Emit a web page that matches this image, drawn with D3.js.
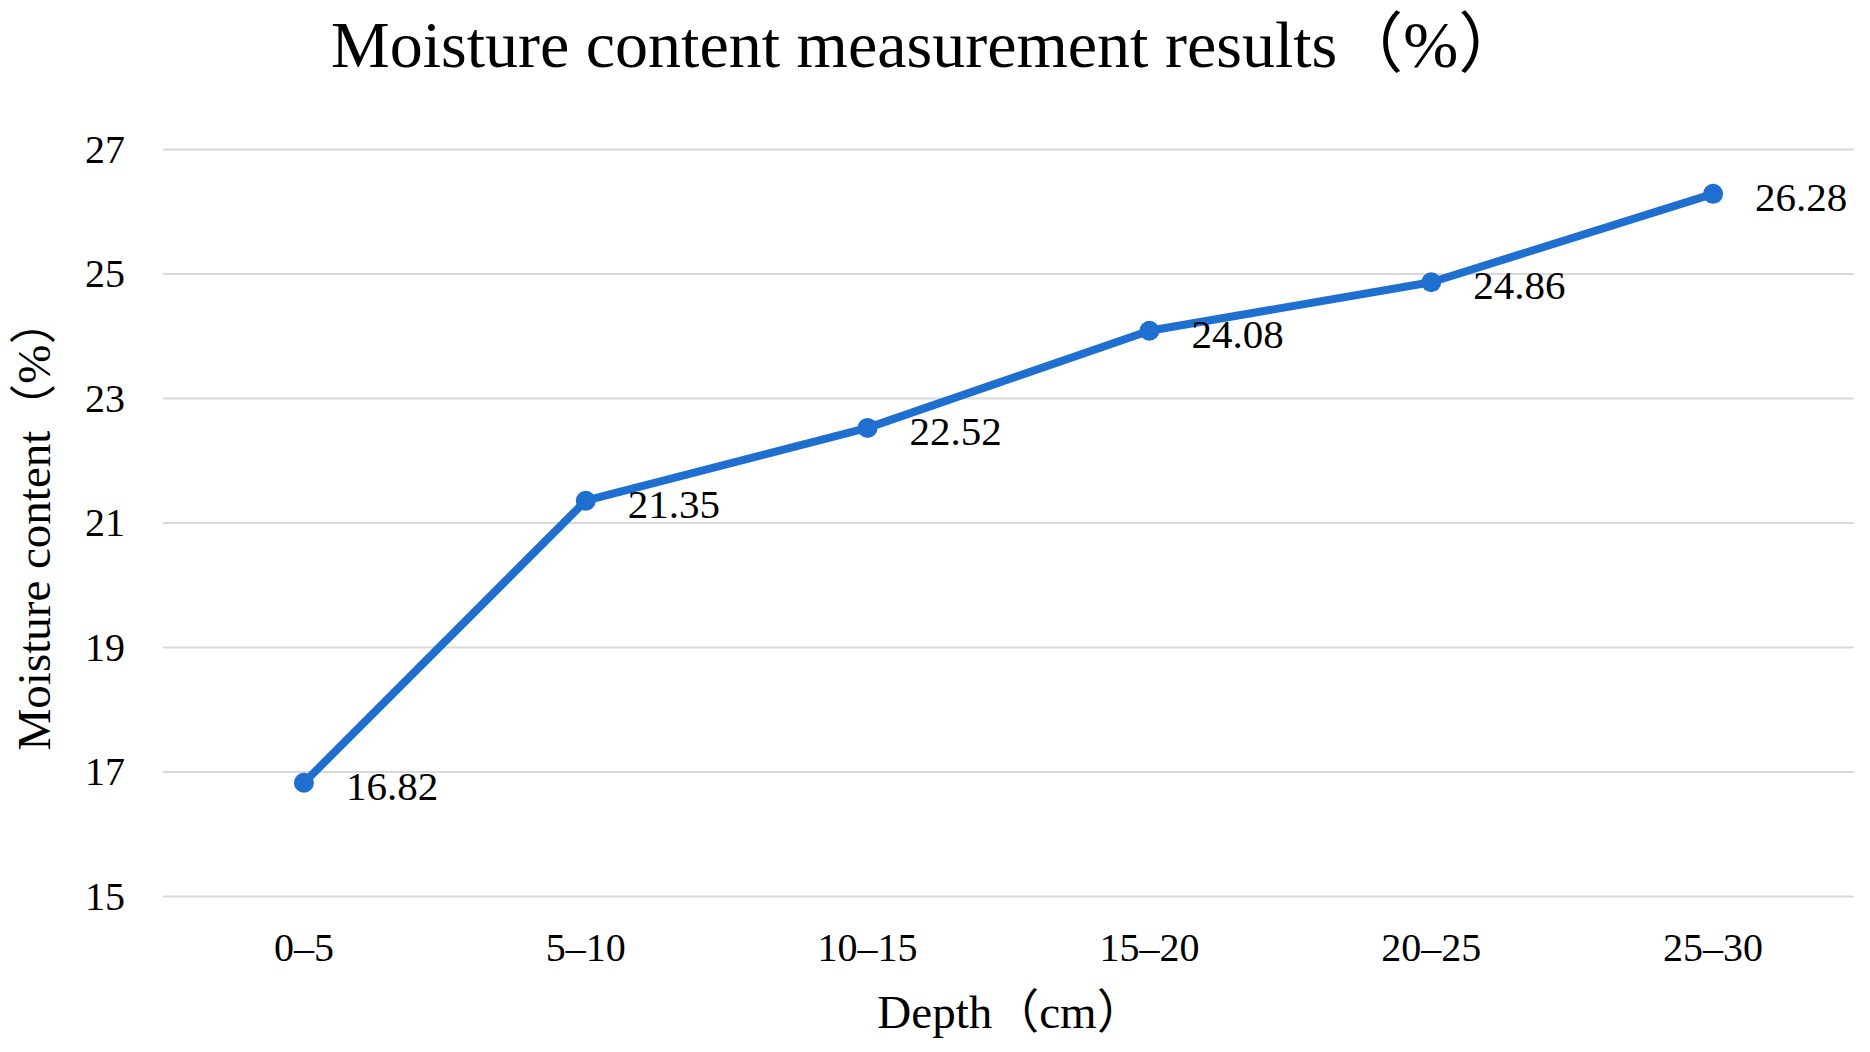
<!DOCTYPE html>
<html>
<head>
<meta charset="utf-8">
<script src="https://cdn.jsdelivr.net/npm/d3@7"></script>
<style>
html,body{margin:0;padding:0;background:#fff;}
svg text{font-family:"Liberation Serif","Times New Roman","Noto Sans CJK SC",serif;fill:#000;}
</style>
</head>
<body>
<svg id="chart" width="1870" height="1052"></svg>
<script>
const categories = ["0–5","5–10","10–15","15–20","20–25","25–30"];
const values = [16.82, 21.35, 22.52, 24.08, 24.86, 26.28];
const yTicks = [15, 17, 19, 21, 23, 25, 27];
const title = "Moisture content measurement results（%）";
const xTitle = "Depth（cm）";
const yTitle = "Moisture content（%）";

const svg = d3.select("#chart");
const W = 1870, H = 1052;
const m = {left: 163, right: 16, top: 149, bottom: 156};

const x = d3.scaleBand().domain(categories).range([m.left, W - m.right]);
const y = d3.scaleLinear().domain([15, 27]).range([H - m.bottom, m.top]);

// gridlines
const yAxis = d3.axisLeft(y).tickValues(yTicks).tickSize(-(W - m.left - m.right)).tickPadding(38).tickFormat(d3.format("d"));
const gy = svg.append("g").attr("transform", `translate(${m.left},0)`).call(yAxis);
gy.select(".domain").remove();
gy.selectAll(".tick line").attr("stroke", "#d9d9d9").attr("stroke-width", 2);
gy.selectAll(".tick text").attr("font-size", 40).attr("dy", "0.33em");

const xAxis = d3.axisBottom(x).tickSize(0).tickPadding(0);
const gx = svg.append("g").attr("transform", `translate(0,${H - m.bottom})`).call(xAxis);
gx.select(".domain").remove();
gx.selectAll(".tick text").attr("font-size", 40).attr("dy", null).attr("y", 65);

// line
const cx = d => x(d) + x.bandwidth() / 2;
const pts = categories.map((c, i) => [cx(c), y(values[i])]);
svg.append("path")
  .attr("d", d3.line()(pts))
  .attr("fill", "none")
  .attr("stroke", "#1f6fd0")
  .attr("stroke-width", 8)
  .attr("stroke-linejoin", "round");

svg.selectAll("circle.pt").data(values).enter().append("circle")
  .attr("class", "pt")
  .attr("cx", (d, i) => cx(categories[i]))
  .attr("cy", d => y(d))
  .attr("r", 10)
  .attr("fill", "#1f6fd0");

svg.selectAll("text.lbl").data(values).enter().append("text")
  .attr("class", "lbl")
  .attr("x", (d, i) => cx(categories[i]) + 42)
  .attr("y", d => y(d) + 17)
  .attr("font-size", 41)
  .text(d => d.toFixed(2));

// titles
svg.append("text")
  .attr("x", 331).attr("y", 67)
  .attr("font-size", 66)
  .text(title);

svg.append("text")
  .attr("x", (m.left + W - m.right) / 2 + 2).attr("y", 1028)
  .attr("text-anchor", "middle")
  .attr("font-size", 47)
  .text(xTitle);

svg.append("text")
  .attr("transform", `translate(50,524) rotate(-90)`)
  .attr("text-anchor", "middle")
  .attr("font-size", 47)
  .text(yTitle);
</script>
</body>
</html>
